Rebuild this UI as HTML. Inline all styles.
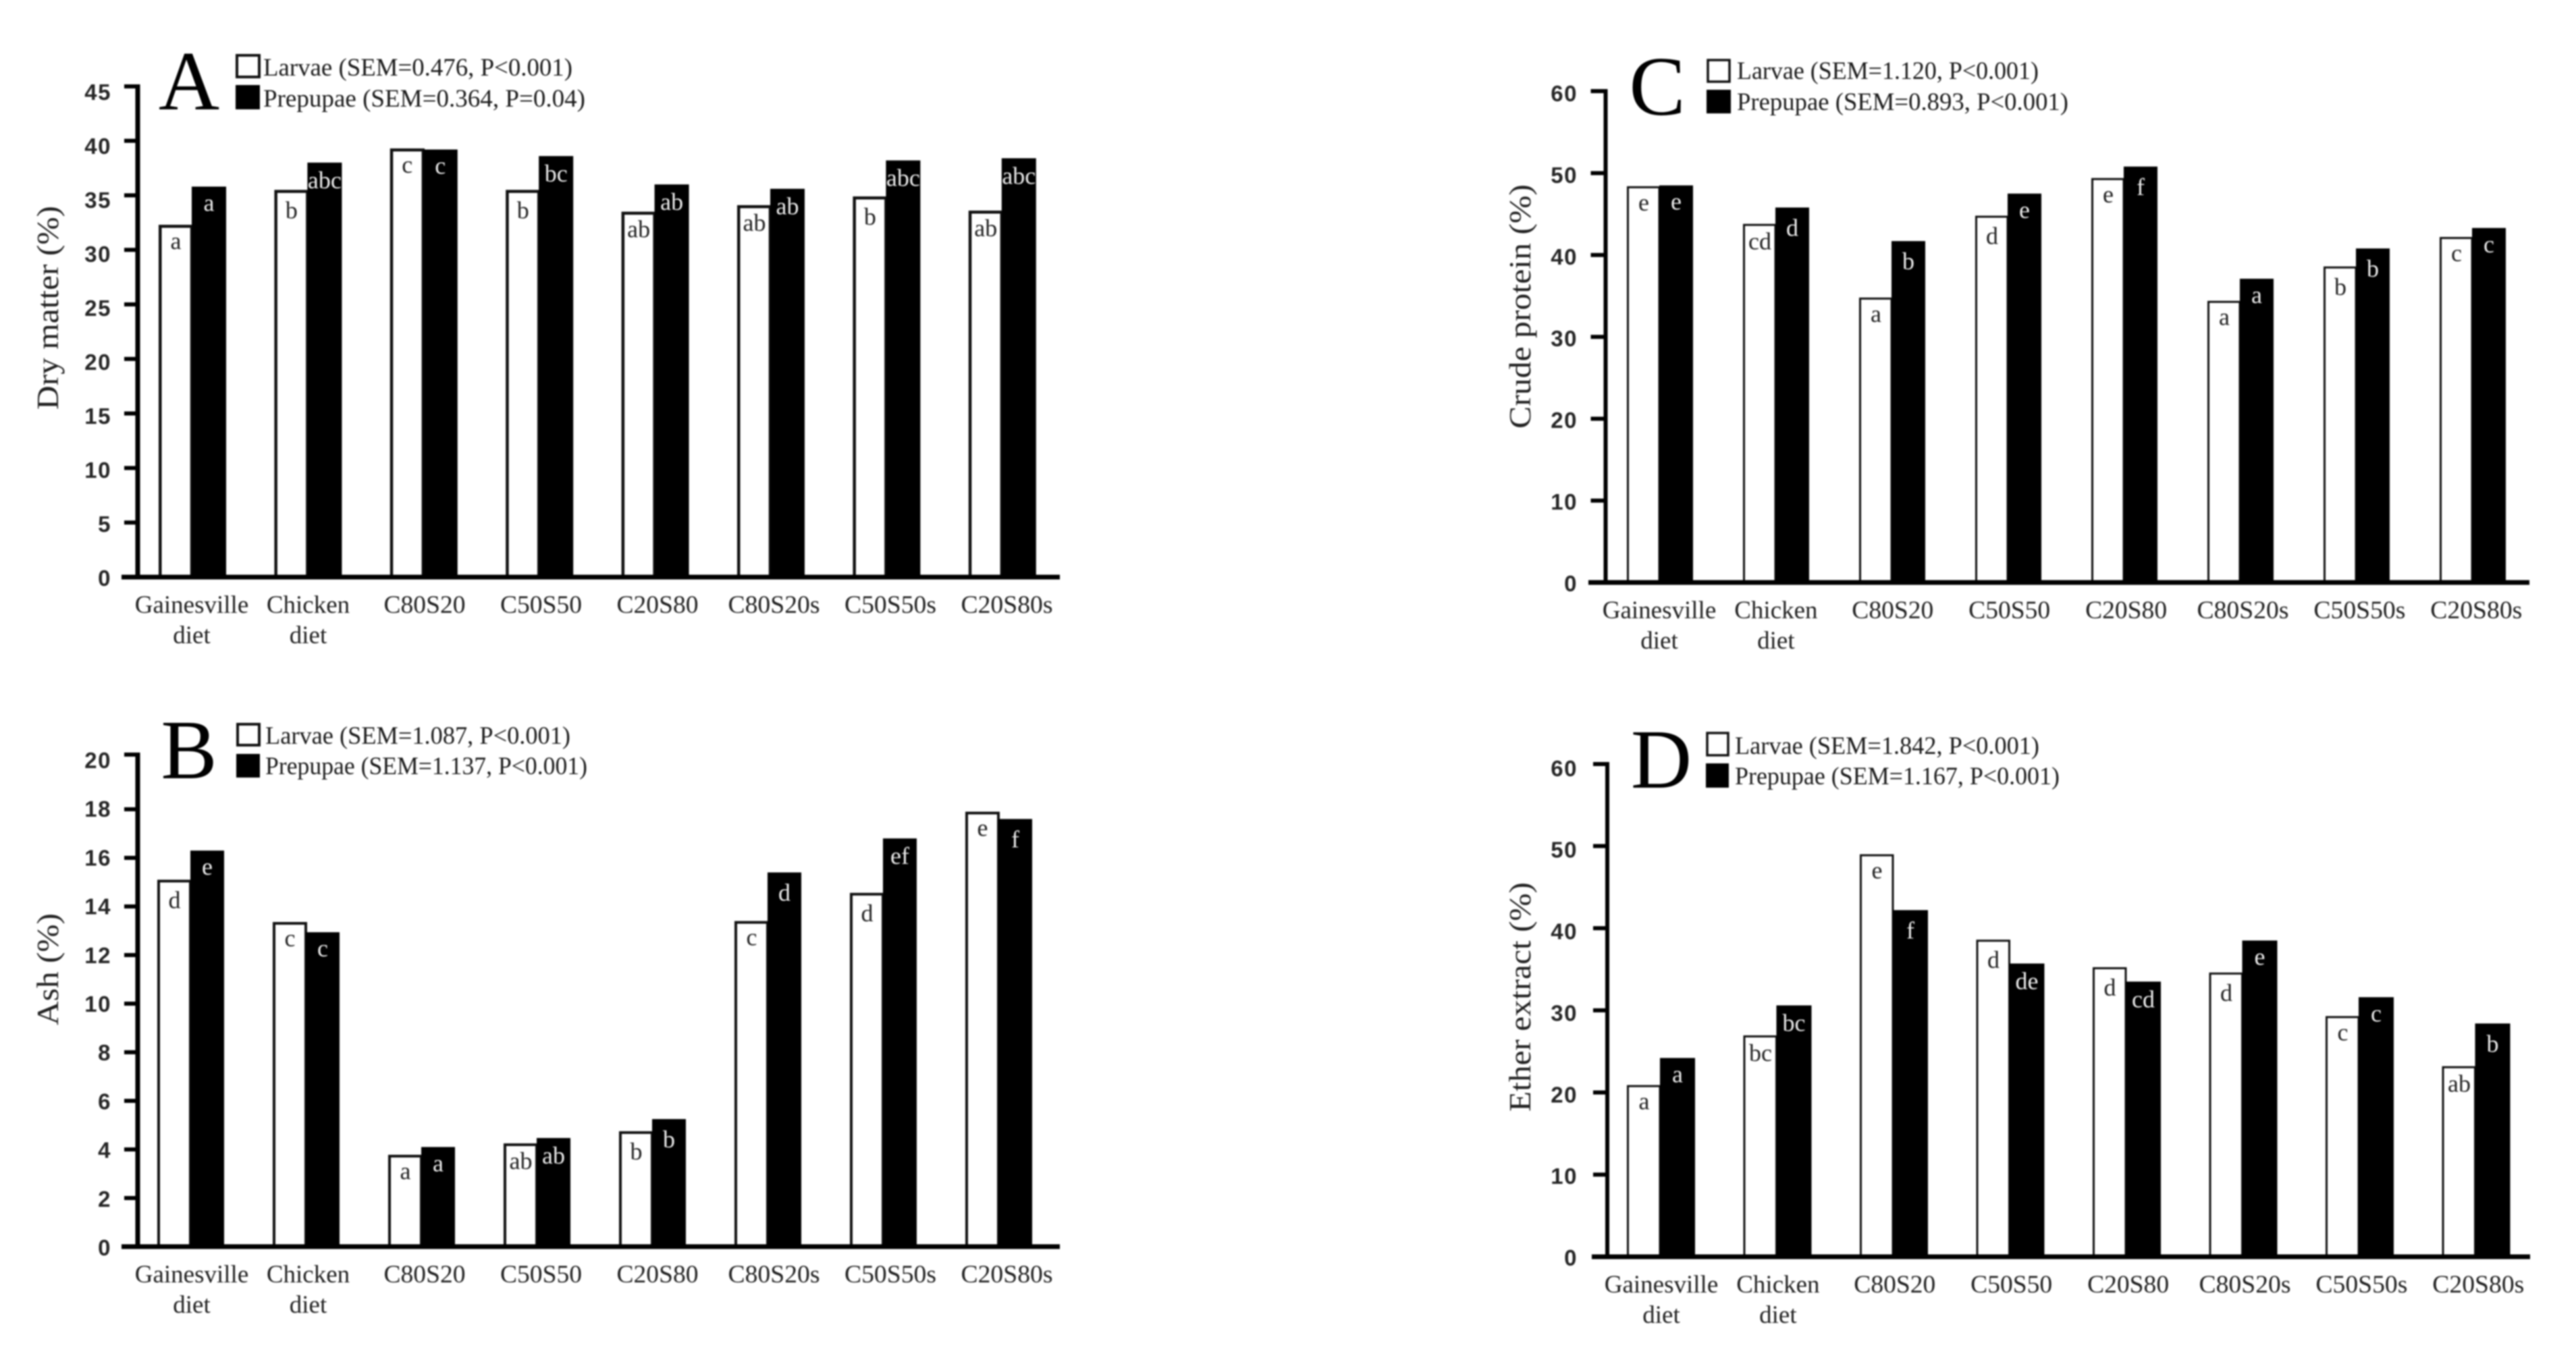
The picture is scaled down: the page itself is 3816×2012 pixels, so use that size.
<!DOCTYPE html>
<html lang="en">
<head>
<meta charset="utf-8">
<title>Larvae and prepupae composition by diet</title>
<style>
  html, body { margin: 0; padding: 0; background: #fff; }
  body { width: 3816px; height: 2012px; overflow: hidden; }
  svg { display: block; filter: blur(1.1px); }
  .serif { font-family: "Liberation Serif", serif; fill: #1c1c1c; }
  .legend-text { font-size: 36.6px; }
  .panel-letter { font-size: 125px; text-anchor: middle; fill: #000; }
  .y-title { font-size: 45px; text-anchor: middle; fill: #222; }
</style>
</head>
<body>
<svg id="figure" xmlns="http://www.w3.org/2000/svg" width="3816" height="2012" viewBox="0 0 3816 2012">
  <rect width="3816" height="2012" fill="#fff"/>

  <g id="panel-a">
    <text class="serif y-title" transform="translate(86 456) rotate(-90)" textLength="302" lengthAdjust="spacingAndGlyphs">Dry matter (%)</text>
    <text class="serif panel-letter" x="280" y="162">A</text>
    <rect x="351" y="82" width="33" height="32" fill="#fff" stroke="#111" stroke-width="4"/>
    <rect x="349" y="126" width="36" height="36" fill="#000"/>
    <text class="serif legend-text" x="390" y="112" textLength="458" lengthAdjust="spacingAndGlyphs">Larvae (SEM=0.476, P&lt;0.001)</text>
    <text class="serif legend-text" x="390" y="158" textLength="477" lengthAdjust="spacingAndGlyphs">Prepupae (SEM=0.364, P=0.04)</text>
  </g>

  <g id="panel-b">
    <text class="serif y-title" transform="translate(86 1436) rotate(-90)" textLength="166" lengthAdjust="spacingAndGlyphs">Ash (%)</text>
    <text class="serif panel-letter" x="280" y="1153">B</text>
    <rect x="352" y="1073" width="32" height="31" fill="#fff" stroke="#111" stroke-width="4"/>
    <rect x="350" y="1117" width="35" height="35" fill="#000"/>
    <text class="serif legend-text" x="393" y="1102" textLength="452" lengthAdjust="spacingAndGlyphs">Larvae (SEM=1.087, P&lt;0.001)</text>
    <text class="serif legend-text" x="393" y="1147" textLength="477" lengthAdjust="spacingAndGlyphs">Prepupae (SEM=1.137, P&lt;0.001)</text>
  </g>

  <g id="panel-c">
    <text class="serif y-title" transform="translate(2267 454) rotate(-90)" textLength="362" lengthAdjust="spacingAndGlyphs">Crude protein (%)</text>
    <text class="serif panel-letter" x="2455" y="170">C</text>
    <rect x="2530" y="89" width="32" height="32" fill="#fff" stroke="#111" stroke-width="3.5"/>
    <rect x="2528" y="133" width="36" height="35" fill="#000"/>
    <text class="serif legend-text" x="2573" y="117" textLength="447" lengthAdjust="spacingAndGlyphs">Larvae (SEM=1.120, P&lt;0.001)</text>
    <text class="serif legend-text" x="2573" y="163" textLength="491" lengthAdjust="spacingAndGlyphs">Prepupae (SEM=0.893, P&lt;0.001)</text>
  </g>

  <g id="panel-d">
    <text class="serif y-title" transform="translate(2267 1477) rotate(-90)" textLength="340" lengthAdjust="spacingAndGlyphs">Ether extract (%)</text>
    <text class="serif panel-letter" x="2461" y="1167">D</text>
    <rect x="2529" y="1086" width="31" height="33" fill="#fff" stroke="#111" stroke-width="3.5"/>
    <rect x="2527" y="1131" width="34" height="36" fill="#000"/>
    <text class="serif legend-text" x="2570" y="1117" textLength="451" lengthAdjust="spacingAndGlyphs">Larvae (SEM=1.842, P&lt;0.001)</text>
    <text class="serif legend-text" x="2570" y="1162" textLength="481" lengthAdjust="spacingAndGlyphs">Prepupae (SEM=1.167, P&lt;0.001)</text>
  </g>
</svg>

<script>
// ---- chart data ----
const categories = ['Gainesville diet', 'Chicken diet', 'C80S20', 'C50S50', 'C20S80', 'C80S20s', 'C50S50s', 'C20S80s'];

const ticksA = [0, 5, 10, 15, 20, 25, 30, 35, 40, 45];
const larvaeA = [32.3, 35.5, 39.3, 35.5, 33.5, 34.1, 34.9, 33.6];
const prepupaeA = [35.8, 38.0, 39.2, 38.6, 36.0, 35.6, 38.2, 38.4];
const larvaeLettersA = ['a', 'b', 'c', 'b', 'ab', 'ab', 'b', 'ab'];
const prepupaeLettersA = ['a', 'abc', 'c', 'bc', 'ab', 'ab', 'abc', 'abc'];

const ticksB = [0, 2, 4, 6, 8, 10, 12, 14, 16, 18, 20];
const larvaeB = [15.1, 13.36, 3.78, 4.25, 4.75, 13.4, 14.56, 17.9];
const prepupaeB = [16.3, 12.94, 4.1, 4.47, 5.25, 15.4, 16.8, 17.6];
const larvaeLettersB = ['d', 'c', 'a', 'ab', 'b', 'c', 'd', 'e'];
const prepupaeLettersB = ['e', 'c', 'a', 'ab', 'b', 'd', 'ef', 'f'];

const ticksC = [0, 10, 20, 30, 40, 50, 60];
const larvaeC = [48.4, 43.8, 34.8, 44.8, 49.4, 34.4, 38.6, 42.2];
const prepupaeC = [48.5, 45.8, 41.7, 47.5, 50.8, 37.1, 40.8, 43.3];
const larvaeLettersC = ['e', 'cd', 'a', 'd', 'e', 'a', 'b', 'c'];
const prepupaeLettersC = ['e', 'd', 'b', 'e', 'f', 'a', 'b', 'c'];

const ticksD = [0, 10, 20, 30, 40, 50, 60];
const larvaeD = [20.9, 26.95, 49.0, 38.6, 35.25, 34.6, 29.3, 23.2];
const prepupaeD = [24.2, 30.6, 42.2, 35.7, 33.5, 38.5, 31.6, 28.4];
const larvaeLettersD = ['a', 'bc', 'e', 'd', 'd', 'd', 'c', 'ab'];
const prepupaeLettersD = ['a', 'bc', 'f', 'de', 'cd', 'e', 'c', 'b'];

// ---- rendering ----
const NS = 'http://www.w3.org/2000/svg';

function make(parent, tag, attrs, text) {
  const el = document.createElementNS(NS, tag);
  for (const key in attrs) el.setAttribute(key, attrs[key]);
  if (text !== undefined) el.textContent = text;
  parent.appendChild(el);
  return el;
}

function letterOffset(letter) {
  if (letter.length > 1) return 38;
  return /[bdf]/.test(letter) ? 42 : 36;
}

function drawPanel(cfg) {
  const root = document.getElementById(cfg.id);
  const y = v => cfg.y0 - v * cfg.pxPerUnit;
  const xBand = i => cfg.x0 + i * cfg.step;
  const labelX = i => cfg.labelX0 + i * cfg.labelStep;
  const maxTick = cfg.ticks[cfg.ticks.length - 1];

  // bars
  const bars = make(root, 'g', {});
  
  
  cfg.categories.forEach((cat, i) => {
    const left = xBand(i);
    const sw = cfg.barStroke;
    const topL = y(cfg.larvae[i]);
    const larvaeBar = make(bars, 'rect', {
      x: left + sw / 2, y: topL + sw / 2,
      width: cfg.larvaeW - sw / 2, height: cfg.y0 - topL - sw / 2,
      fill: '#fff', stroke: '#111', 'stroke-width': sw
    });
    
    

    const topP = y(cfg.prepupae[i]);
    const prepupaeBar = make(bars, 'rect', {
      x: left + cfg.larvaeW, y: topP,
      width: cfg.prepupaeW, height: cfg.y0 - topP, fill: '#000'
    });
    
    

    const lLetter = cfg.larvaeLetters[i];
    const larvaeLetter = make(bars, 'text', {
      x: left + cfg.larvaeW / 2 + 1, y: topL + letterOffset(lLetter),
      'text-anchor': 'middle', 'font-family': '"Liberation Serif", serif',
      'font-size': 36, fill: '#222'
    }, lLetter);
    
    

    const pLetter = cfg.prepupaeLetters[i];
    const prepupaeLetter = make(bars, 'text', {
      x: left + cfg.larvaeW + cfg.prepupaeW / 2, y: topP + letterOffset(pLetter),
      'text-anchor': 'middle', 'font-family': '"Liberation Serif", serif',
      'font-size': 36, fill: '#eee'
    }, pLetter);
    
    

    // category label (split over lines on spaces)
    cat.split(' ').forEach((line, k) => {
      const label = make(root, 'text', {
        x: labelX(i), y: cfg.labelBase + k * 45,
        'text-anchor': 'middle', 'font-family': '"Liberation Serif", serif',
        'font-size': 37, fill: '#222'
      }, line);
      
      
      if (/\d/.test(line)) {
        label.setAttribute('textLength', line.endsWith('s') ? 136 : 121);
        label.setAttribute('lengthAdjust', 'spacingAndGlyphs');
      }
    });
  });

  // axes
  const yAxis = make(root, 'rect', {
    x: cfg.axisX - cfg.axisW / 2, y: cfg.axisTop - 3,
    width: cfg.axisW, height: cfg.y0 - cfg.axisTop + 6, fill: '#000'
  });
  
  

  const xAxis = make(root, 'rect', {
    x: cfg.xAxisStart, y: cfg.y0 - 3.5,
    width: cfg.xAxisEnd - cfg.xAxisStart, height: 7, fill: '#000'
  });
  
  

  // ticks and tick labels
  cfg.ticks.forEach(v => {
    const ty = v === maxTick ? cfg.axisTop : y(v);
    if (v !== 0) {
      const tick = make(root, 'rect', {
        x: cfg.axisX - cfg.tickLen, y: ty - 3,
        width: cfg.tickLen, height: 6, fill: '#000'
      });
      
      
    }
    const tickLabel = make(root, 'text', {
      x: cfg.tickLabelX, y: y(v) + 1 + cfg.labelDrop * v / maxTick + 12,
      'text-anchor': 'end', 'font-family': '"Liberation Sans", sans-serif',
      'font-weight': 'bold', 'font-size': 33, 'letter-spacing': '1.5', fill: '#262626'
    }, String(v));
    
    
  });
}

drawPanel({
  id: 'panel-a', categories, ticks: ticksA, larvae: larvaeA, prepupae: prepupaeA,
  larvaeLetters: larvaeLettersA, prepupaeLetters: prepupaeLettersA,
  y0: 855, pxPerUnit: 16.16, axisTop: 128, axisX: 204, axisW: 7, tickLen: 20,
  xAxisStart: 180, xAxisEnd: 1570, x0: 235, step: 171.4, larvaeW: 49, prepupaeW: 51, barStroke: 4.5,
  labelX0: 284, labelStep: 172.5, labelBase: 908, tickLabelX: 165, labelDrop: 7
});

drawPanel({
  id: 'panel-b', categories, ticks: ticksB, larvae: larvaeB, prepupae: prepupaeB,
  larvaeLetters: larvaeLettersB, prepupaeLetters: prepupaeLettersB,
  y0: 1847, pxPerUnit: 36, axisTop: 1118, axisX: 204, axisW: 7, tickLen: 20,
  xAxisStart: 180, xAxisEnd: 1570, x0: 233, step: 171, larvaeW: 49, prepupaeW: 50, barStroke: 4,
  labelX0: 284, labelStep: 172.5, labelBase: 1900, tickLabelX: 165, labelDrop: -2
});

drawPanel({
  id: 'panel-c', categories, ticks: ticksC, larvae: larvaeC, prepupae: prepupaeC,
  larvaeLetters: larvaeLettersC, prepupaeLetters: prepupaeLettersC,
  y0: 863, pxPerUnit: 12.13, axisTop: 135, axisX: 2378.5, axisW: 6, tickLen: 22,
  xAxisStart: 2353, xAxisEnd: 3747, x0: 2410, step: 172, larvaeW: 48, prepupaeW: 50, barStroke: 3,
  labelX0: 2458, labelStep: 172.9, labelBase: 916, tickLabelX: 2337, labelDrop: 2
});

drawPanel({
  id: 'panel-d', categories, ticks: ticksD, larvae: larvaeD, prepupae: prepupaeD,
  larvaeLetters: larvaeLettersD, prepupaeLetters: prepupaeLettersD,
  y0: 1862, pxPerUnit: 12.17, axisTop: 1132, axisX: 2381, axisW: 6, tickLen: 21,
  xAxisStart: 2358, xAxisEnd: 3748, x0: 2410, step: 172.5, larvaeW: 49, prepupaeW: 52, barStroke: 3,
  labelX0: 2461, labelStep: 172.9, labelBase: 1915, tickLabelX: 2337, labelDrop: 5
});
</script>
</body>
</html>
